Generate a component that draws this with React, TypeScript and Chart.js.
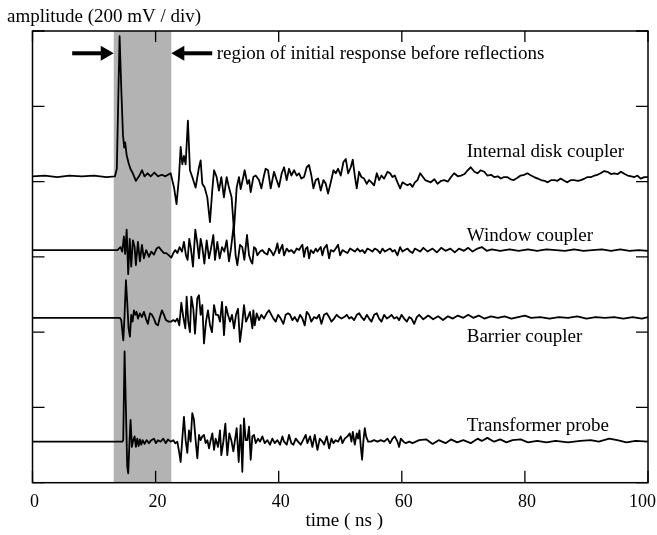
import React, { useEffect, useRef } from "react";
import { Chart, registerables } from "chart.js";

Chart.register(...registerables);

// ---- axis ranges & ticks ----
const X_MIN = 0;
const X_MAX = 100;
const Y_MIN = 0;
const Y_MAX = 6; // divisions (200 mV / div)
const xTickValues = [0, 20, 40, 60, 80, 100];
const yTickValues = [0, 1, 2, 3, 4, 5, 6];

// ---- shaded region (ns) ----
const shadeStart = 13.2;
const shadeEnd = 22.55;

// ---- series ----
const seriesNames = ["Internal disk coupler", "Window coupler", "Barrier coupler", "Transformer probe"];
const seriesOffsets = [4.07, 3.09, 2.19, 0.545]; // baseline of each trace, in divisions

// [time (ns), amplitude relative to baseline (div)]
const internalDisk: number[][] = [
  [0, 0], [2, 0.01], [4, -0.01], [6, 0.01], [8, 0], [10, 0.01], [12, -0.01], [13.4, 0], [13.7, 0.1],
  [14.15, 1.86], [14.45, 1.1], [14.7, 0.55], [14.9, 0.38], [15.05, 0.45], [15.3, 0.28], [15.6, 0.18],
  [15.9, 0.1], [16.3, 0.04], [16.8, -0.06], [17.3, 0], [17.8, 0.08], [18.2, 0], [18.7, 0.04], [19.2, 0],
  [19.8, 0.05], [20.4, 0], [21.0, 0.02], [21.6, 0], [22.44, 0.04], [23.0, -0.15], [23.4, -0.37],
  [23.8, -0.01], [24.07, 0.39], [24.34, 0.16], [24.6, 0.27], [24.88, 0.16], [25.25, 0.74], [25.58, 0.08],
  [25.96, -0.01], [26.5, -0.15], [27.05, 0.12], [27.32, 0.21], [27.59, -0.1], [27.97, -0.15], [28.4, -0.28],
  [28.83, -0.61], [29.2, -0.19], [29.5, 0.08], [29.92, -0.01], [30.29, -0.19], [30.68, -0.01], [31.1, -0.28],
  [31.54, -0.01], [31.92, -0.15], [32.35, -0.28], [32.73, -0.72], [33.17, -0.15], [33.55, -0.01],
  [33.82, -0.17], [34.25, -0.01], [34.47, 0.08], [34.91, -0.1], [35.2, -0.05], [35.45, -0.21],
  [35.88, -0.01], [36.26, 0.01], [36.8, -0.05], [37.18, -0.16], [37.61, 0.01], [37.88, 0.1], [38.27, 0.08],
  [38.7, -0.16], [39.24, 0.06], [39.67, -0.05], [40.05, -0.14], [40.49, 0.04], [40.87, 0.12], [41.3, -0.05],
  [41.68, 0.1], [42.06, 0.01], [42.5, 0.08], [42.93, 0.01], [43.31, 0.04], [43.69, -0.03], [44.12, -0.01],
  [44.55, 0.12], [44.93, 0.15], [45.31, 0.01], [45.64, -0.16], [46.02, -0.05], [46.4, -0.03], [46.83, -0.19],
  [47.27, -0.05], [47.65, -0.1], [48.02, -0.23], [48.46, -0.08], [48.9, 0.08], [49.27, 0.04], [49.65, 0.1],
  [50.08, 0.01], [50.52, 0.19], [50.9, 0.23], [51.28, 0.04], [51.71, 0.12], [52.03, 0.22], [52.36, 0.01],
  [52.68, -0.16], [53.06, 0.06], [53.44, -0.01], [53.87, -0.03], [54.31, -0.1], [54.69, -0.05],
  [55.07, -0.08], [55.5, -0.12], [55.94, 0.04], [56.31, -0.05], [56.69, 0.01], [57.13, -0.03], [57.67, 0.06],
  [58.1, 0.04], [58.48, -0.01], [58.86, 0.01], [59.3, -0.08], [59.73, -0.16], [60.11, -0.08], [60.49, -0.1],
  [60.93, -0.12], [61.36, -0.1], [61.74, -0.14], [62.12, -0.08], [62.55, -0.05], [62.98, 0.04],
  [63.8, -0.05], [64.7, -0.08], [65.3, -0.04], [65.8, -0.1], [66.4, -0.06], [66.9, -0.05], [67.5, -0.07],
  [68.0, -0.01], [68.5, 0.04], [69.1, 0.0], [69.6, 0.01], [70.2, 0.03], [70.7, 0.08], [71.2, 0.12],
  [71.8, 0.06], [72.3, 0.04], [72.8, 0.08], [73.4, 0.06], [73.9, 0.01], [74.5, 0.02], [75.0, -0.01],
  [75.6, 0.0], [76.1, -0.03], [76.6, -0.01], [77.1, -0.01], [77.7, -0.04], [78.2, -0.05], [78.8, -0.02],
  [79.3, 0.01], [79.9, 0.02], [80.4, 0.04], [81.0, 0.01], [81.5, -0.01], [82.1, -0.03], [82.6, -0.05],
  [83.2, -0.06], [83.7, -0.08], [84.3, -0.05], [84.8, -0.05], [85.3, -0.06], [85.8, -0.03], [86.4, -0.06],
  [86.9, -0.08], [87.5, -0.05], [88.0, -0.05], [88.6, -0.06], [89.1, -0.05], [89.7, -0.03], [90.2, -0.01],
  [90.8, -0.01], [91.3, 0.01], [91.8, 0.02], [92.3, 0.04], [92.9, 0.07], [93.4, 0.06], [94.0, 0.03],
  [94.5, 0.04], [95.1, 0.03], [95.6, 0.06], [96.2, 0.03], [96.7, 0.01], [97.3, 0.0], [97.8, -0.01],
  [98.3, 0.01], [98.8, -0.03], [99.4, -0.01], [100, -0.01],
];

const windowCoupler: number[][] = [
  [0, 0], [13.8, 0], [14.05, 0.02], [14.3, 0.04], [14.58, -0.02], [14.85, 0.18], [15.05, -0.05],
  [15.3, 0.27], [15.55, -0.32], [15.8, 0.15], [16.04, -0.22], [16.31, 0.13], [16.59, 0.04], [16.8, -0.2],
  [17.13, 0.11], [17.45, -0.15], [17.78, 0.07], [18.1, -0.11], [18.48, 0], [18.92, -0.09], [19.3, -0.02],
  [19.73, -0.06], [20.16, 0.02], [20.54, 0.04], [20.92, 0], [21.35, -0.04], [21.73, -0.04], [22.17, -0.07],
  [22.55, -0.1], [22.88, -0.04], [23.2, 0], [23.53, -0.04], [23.9, 0.04], [24.28, -0.02], [24.61, 0.11],
  [24.93, -0.07], [25.2, -0.13], [25.47, 0.15], [25.74, 0.02], [26.07, -0.22], [26.45, 0.27], [26.78, 0.09],
  [27.05, -0.11], [27.32, 0.15], [27.59, 0.04], [27.92, -0.18], [28.3, 0.13], [28.68, -0.11], [29.0, 0.02],
  [29.38, 0.2], [29.65, -0.13], [30.03, 0.11], [30.41, -0.11], [30.79, 0.04], [31.17, -0.02], [31.55, 0.13],
  [31.92, -0.15], [32.25, 0.02], [32.68, 0.33], [33.0, -0.07], [33.28, -0.2], [33.71, 0.07], [34.09, 0.04],
  [34.42, -0.13], [34.85, 0.2], [35.18, -0.07], [35.5, -0.15], [35.72, -0.18], [35.99, 0.04], [36.26, 0.02],
  [36.53, -0.07], [36.97, -0.02], [37.35, 0], [37.73, -0.04], [38.16, -0.06], [38.43, 0.02], [38.81, -0.02],
  [39.14, -0.07], [39.52, 0], [39.79, 0.09], [40.06, -0.04], [40.33, 0.02], [40.6, 0.07], [40.87, -0.07],
  [41.3, 0.02], [41.68, -0.02], [42.06, 0], [42.5, -0.04], [42.93, 0.02], [43.31, 0], [43.58, 0.04],
  [43.85, 0.07], [44.12, -0.09], [44.39, 0.02], [44.66, 0.04], [44.94, -0.11], [45.21, 0], [45.64, -0.04],
  [46.02, 0.02], [46.29, -0.02], [46.83, 0.04], [47.1, -0.07], [47.37, 0.02], [47.81, 0.07], [48.19, -0.11],
  [48.46, 0], [48.89, -0.02], [49.27, 0.02], [49.65, 0.07], [49.98, -0.07], [50.36, 0], [50.73, -0.02],
  [51.17, -0.04], [51.6, 0.02], [51.98, 0], [52.36, -0.02], [52.8, 0.02], [53.23, -0.02], [53.61, 0],
  [53.99, -0.04], [54.42, 0.02], [54.85, 0], [55.23, -0.02], [55.61, 0.02], [56.05, 0], [56.48, -0.04],
  [56.86, 0.02], [57.24, -0.02], [57.67, 0], [58.11, 0.02], [58.49, -0.02], [58.86, 0], [59.3, -0.07],
  [59.73, 0.04], [60.11, -0.02], [60.49, 0], [60.93, 0.02], [61.36, -0.02], [61.74, -0.04], [62.12, 0.02],
  [62.55, 0], [62.98, -0.02], [63.5, 0.03], [64.2, -0.02], [65.0, 0.02], [65.7, -0.03], [66.4, 0.03],
  [67.1, -0.01], [67.9, 0.02], [68.6, -0.03], [69.3, 0.02], [70.1, -0.01], [70.8, 0.03], [71.5, -0.02],
  [72.3, 0.02], [73.0, 0.04], [73.8, -0.01], [74.6, 0.01], [76, -0.01], [77.5, 0.01], [79, -0.01],
  [80.5, 0.01], [82, -0.01], [83.5, 0.01], [85, 0], [86.5, -0.01], [88, 0.01], [89.5, -0.01], [91, 0],
  [92.5, 0.01], [94, -0.01], [95.5, 0.01], [97, -0.01], [98.5, 0], [100, -0.01],
];

const barrierCoupler: number[][] = [
  [0, 0], [14.2, 0], [14.42, -0.03], [14.75, -0.3], [14.96, 0.04], [15.18, 0.5], [15.39, 0.21],
  [15.61, -0.14], [15.83, -0.25], [16.04, 0.04], [16.26, -0.05], [16.48, 0.1], [16.69, 0.04], [16.91, 0.08],
  [17.13, -0.01], [17.45, 0.06], [17.78, 0.01], [18.1, 0.08], [18.43, -0.01], [18.75, -0.08], [19.08, 0.06],
  [19.41, 0.04], [19.73, -0.01], [20.05, -0.08], [20.38, -0.1], [20.71, 0.01], [21.03, 0.1], [21.36, 0.04],
  [21.68, -0.03], [22.11, -0.05], [22.55, -0.05], [22.88, -0.03], [23.2, -0.05], [23.53, -0.01],
  [23.85, -0.1], [24.18, 0.2], [24.5, 0.01], [24.83, -0.14], [25.04, 0.28], [25.31, -0.05], [25.58, -0.19],
  [25.8, 0.28], [26.13, 0.12], [26.4, -0.21], [26.78, 0.26], [27.05, 0.3], [27.32, 0.04], [27.59, 0.17],
  [27.86, -0.34], [28.19, -0.05], [28.51, 0.1], [28.84, -0.1], [29.16, -0.19], [29.49, 0.17], [29.81, 0.04],
  [30.14, 0.04], [30.46, -0.05], [30.79, 0.21], [31.11, -0.23], [31.44, 0.15], [31.76, 0.04], [32.09, -0.05],
  [32.41, 0.04], [32.74, -0.14], [33.06, 0.04], [33.39, 0.12], [33.71, -0.32], [34.04, -0.1], [34.36, 0.17],
  [34.69, -0.05], [35.01, 0.01], [35.34, 0.08], [35.72, -0.14], [35.88, 0.1], [36.1, -0.1], [36.43, 0.06],
  [36.8, -0.03], [37.18, 0.04], [37.6, -0.01], [38.05, 0.06], [38.43, 0.1], [38.81, 0.04], [39.14, -0.01],
  [39.52, -0.05], [39.9, 0.04], [40.33, -0.01], [40.76, -0.08], [41.14, 0.04], [41.52, 0.06], [41.85, 0.04],
  [42.22, -0.03], [42.6, 0.01], [43.04, -0.05], [43.47, 0.04], [43.85, -0.01], [44.23, -0.1], [44.55, 0.08],
  [44.93, 0.04], [45.31, -0.05], [45.75, 0.01], [46.18, -0.01], [46.56, 0.04], [46.94, -0.08], [47.37, 0.04],
  [47.81, 0.06], [48.19, 0.01], [48.57, -0.05], [49.0, -0.01], [49.43, 0.04], [49.81, 0.01], [50.19, -0.01],
  [50.63, 0.01], [51.06, 0.04], [51.44, -0.01], [51.82, 0.01], [52.25, -0.03], [52.69, 0.04], [53.07, 0.06],
  [53.45, 0.01], [53.88, -0.03], [54.31, 0.04], [54.69, -0.01], [55.07, -0.05], [55.5, 0.04], [55.94, 0.06],
  [56.31, -0.01], [56.7, -0.05], [57.13, 0.04], [57.56, -0.01], [57.94, 0.01], [58.32, 0.04], [58.76, -0.01],
  [59.2, 0.01], [59.57, -0.03], [59.95, 0.04], [60.38, -0.01], [60.82, -0.05], [61.2, 0.01], [61.58, -0.01],
  [62.01, -0.08], [62.44, 0.01], [62.82, 0.04], [63.5, -0.02], [64.3, 0.03], [65.1, -0.02], [65.9, 0.02],
  [66.7, -0.03], [67.5, 0.02], [68.3, -0.01], [69.1, 0.03], [70.0, 0], [70.8, 0.04], [71.6, 0], [72.5, 0.03],
  [73.4, -0.01], [74.5, 0.02], [75.6, 0], [76.7, 0.02], [77.8, -0.01], [78.9, 0.01], [80, 0.03], [81, 0],
  [82.5, 0.01], [84, -0.01], [85.5, 0.01], [87, 0], [88.5, 0.02], [90, -0.01], [91.5, 0.01], [93, 0],
  [94.5, 0.01], [96, -0.01], [97.5, 0.01], [99, -0.01], [100, 0.01],
];

const transformerProbe: number[][] = [
  [0, 0], [14.58, 0], [14.74, 0.02], [14.96, 1.2], [15.17, 0.46], [15.39, -0.33], [15.55, -0.42],
  [15.77, 0.02], [15.93, 0.29], [16.15, -0.07], [16.37, 0.02], [16.59, 0.07], [16.8, -0.07], [17.02, 0.04],
  [17.24, -0.06], [17.45, 0.03], [17.67, -0.04], [17.89, 0.02], [18.21, -0.03], [18.54, 0.02], [18.92, -0.02],
  [19.3, 0.02], [19.73, 0.04], [20.05, -0.02], [20.38, 0.02], [20.81, 0], [21.25, 0.04], [21.63, -0.02],
  [22.0, 0.03], [22.44, 0], [22.87, 0.02], [23.2, -0.02], [23.53, 0], [23.85, -0.15], [24.07, -0.27],
  [24.34, 0.04], [24.61, 0.33], [24.88, 0.02], [25.15, -0.15], [25.42, 0.15], [25.69, 0], [25.96, 0.38],
  [26.23, 0.29], [26.5, 0.02], [26.78, -0.22], [27.05, 0.09], [27.32, 0.02], [27.59, 0.07], [27.86, 0.09],
  [28.13, -0.02], [28.41, 0.02], [28.68, -0.09], [28.95, 0.02], [29.22, 0.11], [29.49, -0.11], [29.76, 0.04],
  [30.14, -0.07], [30.46, 0.15], [30.68, -0.18], [31.01, 0], [31.33, 0.24], [31.65, -0.18], [31.98, 0.11],
  [32.3, 0.02], [32.63, -0.13], [32.9, 0.02], [33.17, 0.18], [33.5, -0.27], [33.82, 0.22], [34.09, -0.4],
  [34.36, 0.31], [34.63, 0.02], [34.91, 0.02], [35.18, 0.2], [35.45, -0.24], [35.72, 0.07], [35.99, 0.09],
  [36.26, -0.02], [36.64, 0.04], [36.97, 0], [37.35, 0.07], [37.73, -0.02], [38.16, 0.02], [38.59, -0.04],
  [38.97, 0.04], [39.35, -0.02], [39.79, 0.02], [40.22, -0.04], [40.6, 0.07], [40.87, 0], [41.3, -0.04],
  [41.68, 0.09], [42.06, -0.02], [42.39, -0.04], [42.77, 0.04], [43.15, 0], [43.58, -0.04], [43.96, 0.02],
  [44.39, 0.09], [44.66, -0.02], [45.1, 0.07], [45.48, -0.07], [45.86, 0.09], [46.29, -0.11], [46.67, 0.04],
  [47.1, 0], [47.37, -0.04], [47.81, 0.07], [48.19, -0.09], [48.57, 0.04], [48.89, -0.02], [49.27, 0.02],
  [49.65, 0], [50.08, 0.07], [50.36, -0.02], [50.73, 0.04], [51.17, 0.07], [51.55, 0.11], [51.82, 0],
  [52.04, 0.13], [52.36, -0.04], [52.69, 0.11], [52.9, 0.04], [53.12, 0.15], [53.34, -0.07], [53.55, -0.24],
  [53.77, 0.02], [53.99, 0.18], [54.2, 0.07], [54.53, 0], [54.96, 0], [55.5, 0.02], [56.05, 0], [56.59, 0.02],
  [57.13, 0], [57.67, 0.04], [58.11, -0.02], [58.49, 0.04], [58.86, 0.07], [59.3, 0], [59.57, -0.07],
  [59.84, 0.04], [60.27, 0], [60.65, -0.02], [61.2, 0], [61.74, -0.02], [62.28, 0], [62.82, 0.02],
  [64.0, 0.03], [65.0, -0.03], [66.0, 0.02], [67.1, -0.02], [68.0, 0.03], [69.0, -0.01], [70.0, 0.02],
  [71.2, -0.02], [72.3, 0.04], [73.0, 0.01], [73.9, 0.05], [75.0, 0], [76.0, 0.03], [77.0, -0.01], [78.0, 0.02],
  [79.3, 0.03], [80.5, -0.01], [82.0, 0.01], [83.5, -0.01], [85.0, 0.01], [87.0, -0.01], [89.0, 0.01],
  [90.7, 0.02], [92.0, 0], [93.7, 0.04], [95.0, 0.02], [96.5, -0.01], [98.0, 0.01], [100, 0],
];

const seriesData = [internalDisk, windowCoupler, barrierCoupler, transformerProbe];

// ---- texts ----
const yAxisTitle = "amplitude (200 mV / div)";
const xAxisTitle = "time ( ns )";
const regionText = "region of initial response before reflections";

const FONT = "'Liberation Serif', 'Times New Roman', serif";

const decorPlugin = {
  id: "decor",
  beforeDatasetsDraw(chart: any) {
    const { ctx, chartArea, scales } = chart;
    const { top, bottom } = chartArea;
    const x0 = scales.x.getPixelForValue(shadeStart);
    const x1 = scales.x.getPixelForValue(shadeEnd);
    ctx.save();
    ctx.fillStyle = "#b3b3b3";
    ctx.fillRect(x0, top, x1 - x0, bottom - top);
    ctx.restore();
  },
  afterDatasetsDraw(chart: any) {
    const { ctx, chartArea, scales, width } = chart;
    const { left, right, top, bottom } = chartArea;
    const xs = scales.x;
    const ys = scales.y;
    ctx.save();
    ctx.strokeStyle = "#000";
    ctx.fillStyle = "#000";

    // frame
    ctx.lineWidth = 1.5;
    ctx.strokeRect(left, top, right - left, bottom - top);

    // ticks
    ctx.lineWidth = 1.3;
    const tl = 12;
    ctx.beginPath();
    xTickValues.forEach((v) => {
      const px = xs.getPixelForValue(v);
      ctx.moveTo(px, bottom);
      ctx.lineTo(px, bottom - tl);
      ctx.moveTo(px, top);
      ctx.lineTo(px, top + tl - 1);
    });
    yTickValues.forEach((v) => {
      const py = ys.getPixelForValue(v);
      ctx.moveTo(left, py);
      ctx.lineTo(left + tl, py);
      ctx.moveTo(right, py);
      ctx.lineTo(right - tl, py);
    });
    ctx.stroke();

    // tick labels (kept inside the canvas)
    ctx.font = `18px ${FONT}`;
    ctx.textBaseline = "alphabetic";
    xTickValues.forEach((v) => {
      const label = String(v);
      const w = ctx.measureText(label).width;
      let cx = xs.getPixelForValue(v) + 2;
      if (cx + w / 2 > width - 1) cx = width - 1 - w / 2;
      ctx.textAlign = "center";
      ctx.fillText(label, cx, bottom + 24);
    });

    // axis titles
    ctx.font = `19px ${FONT}`;
    ctx.textAlign = "center";
    ctx.fillText(xAxisTitle, (left + right) / 2 + 4, bottom + 43);
    ctx.textAlign = "left";
    ctx.fillText(yAxisTitle, 7, 22);

    // series labels
    const labelX = xs.getPixelForValue(70.55);
    const labelDy = [0.26, 0.12, -0.317, 0.145];
    seriesNames.forEach((name, i) => {
      ctx.fillText(name, labelX, ys.getPixelForValue(seriesOffsets[i] + labelDy[i]));
    });

    // region annotation
    const arrowY = ys.getPixelForValue(5.704);
    ctx.fillText(regionText, xs.getPixelForValue(29.93), ys.getPixelForValue(5.63));

    const drawArrow = (fromX: number, tipX: number) => {
      const dir = Math.sign(tipX - fromX);
      const headLen = 13;
      const headHalf = 7.5;
      ctx.lineWidth = 4;
      ctx.beginPath();
      ctx.moveTo(fromX, arrowY);
      ctx.lineTo(tipX - dir * headLen + dir, arrowY);
      ctx.stroke();
      ctx.beginPath();
      ctx.moveTo(tipX, arrowY);
      ctx.lineTo(tipX - dir * headLen, arrowY - headHalf);
      ctx.lineTo(tipX - dir * headLen, arrowY + headHalf);
      ctx.closePath();
      ctx.fill();
    };
    drawArrow(xs.getPixelForValue(6.45), xs.getPixelForValue(shadeStart));
    drawArrow(xs.getPixelForValue(29.2), xs.getPixelForValue(shadeEnd));

    ctx.restore();
  },
};

export default function App() {
  const canvasRef = useRef<HTMLCanvasElement | null>(null);

  useEffect(() => {
    if (!canvasRef.current) return;
    const datasets = seriesData.map((series, i) => ({
      label: seriesNames[i],
      data: series.map(([t, v]) => ({ x: t, y: v + seriesOffsets[i] })),
      borderColor: "#000",
      borderWidth: 1.8,
      borderJoinStyle: "round" as const,
      pointRadius: 0,
      tension: 0,
      fill: false,
    }));
    const chart = new Chart(canvasRef.current, {
      type: "line",
      data: { datasets },
      options: {
        responsive: false,
        animation: false,
        devicePixelRatio: 1,
        layout: { padding: { left: 32.5, right: 9, top: 31, bottom: 52.3 } },
        plugins: { legend: { display: false }, tooltip: { enabled: false } },
        scales: {
          x: { type: "linear", min: X_MIN, max: X_MAX, display: false },
          y: { type: "linear", min: Y_MIN, max: Y_MAX, display: false },
        },
      },
      plugins: [decorPlugin],
    });
    return () => chart.destroy();
  }, []);

  return (
    <div style={{ position: "fixed", left: 0, top: 0, width: 657, height: 535, background: "#fff" }}>
      <canvas ref={canvasRef} width={657} height={535} />
    </div>
  );
}
